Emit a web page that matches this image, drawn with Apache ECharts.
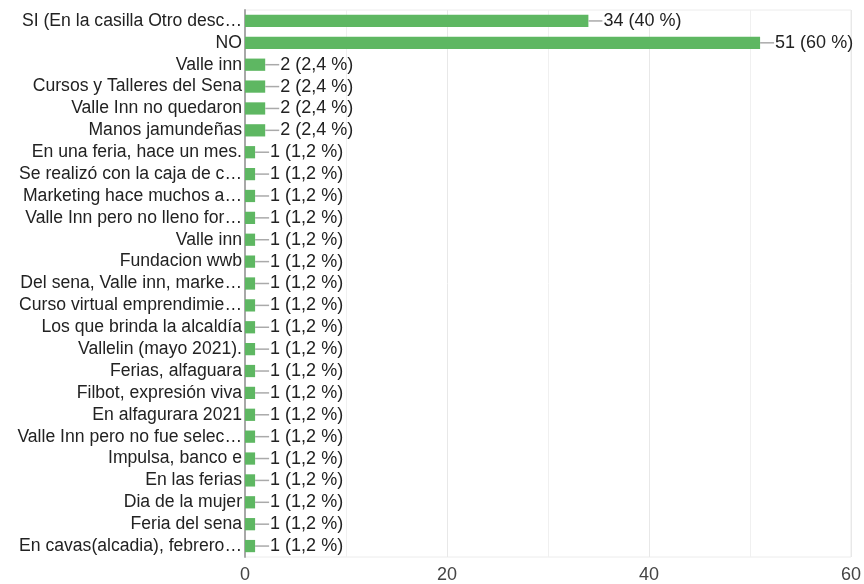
<!DOCTYPE html>
<html>
<head>
<meta charset="utf-8">
<script src="https://cdn.jsdelivr.net/npm/echarts@6/dist/echarts.min.js"></script>
<style>
  html, body { margin: 0; padding: 0; background: #fff; }
  #chart { width: 864px; height: 584px; }
</style>
</head>
<body>
<div id="chart"></div>
<script>
// categorias tal como aparecen (truncadas) en el gráfico
var categories = [
    'SI (En la casilla Otro desc…',
    'NO',
    'Valle inn',
    'Cursos y Talleres del Sena',
    'Valle Inn no quedaron',
    'Manos jamundeñas',
    'En una feria, hace un mes.',
    'Se realizó con la caja de c…',
    'Marketing hace muchos a…',
    'Valle Inn pero no lleno for…',
    'Valle inn',
    'Fundacion wwb',
    'Del sena, Valle inn, marke…',
    'Curso virtual emprendimie…',
    'Los que brinda la alcaldía',
    'Vallelin (mayo 2021).',
    'Ferias, alfaguara',
    'Filbot, expresión viva',
    'En alfagurara 2021',
    'Valle Inn pero no fue selec…',
    'Impulsa, banco e',
    'En las ferias',
    'Dia de la mujer',
    'Feria del sena',
    'En cavas(alcadia), febrero…'
];
var counts = [34, 51, 2, 2, 2, 2, 1, 1, 1, 1, 1, 1, 1, 1, 1, 1, 1, 1, 1, 1, 1, 1, 1, 1, 1];
var xTicks = [0, 20, 40, 60];
var total = 85;

var fontFamily = 'Arial, "Liberation Sans", sans-serif';

var pctLabel = function (v) {
    var p = Number((v / total * 100).toFixed(1));
    return String(p).replace('.', ',') + ' %';
};

var chart = echarts.init(document.getElementById('chart'));
chart.setOption({
    animation: false,
    textStyle: { fontFamily: fontFamily },
    grid: {
        left: 245, right: 11, top: 10, bottom: 27, containLabel: false,
        show: true, borderColor: '#ececec', borderWidth: 1
    },
    xAxis: {
        type: 'value',
        min: xTicks[0],
        max: xTicks[xTicks.length - 1],
        interval: 20,
        axisLine: { show: false },
        axisTick: { show: false },
        axisLabel: { color: '#444', fontSize: 18, margin: 9, fontFamily: fontFamily },
        splitLine: { show: true, lineStyle: { color: '#e8e8e8', width: 1 } },
        minorTick: { show: false, splitNumber: 2 },
        minorSplitLine: { show: true, lineStyle: { color: '#f0f0f0', width: 1 } }
    },
    yAxis: {
        type: 'category',
        inverse: true,
        data: categories,
        axisLine: { show: true, lineStyle: { color: '#a8a8a8', width: 2 } },
        axisTick: { show: false },
        axisLabel: { color: '#222', fontSize: 17.6, margin: 3, fontFamily: fontFamily, interval: 0 },
        splitLine: { show: false }
    },
    series: [{
        type: 'bar',
        data: counts,
        barCategoryGap: '44%',
        itemStyle: { color: '#5eb762' },
        label: {
            show: true,
            position: 'right',
            distance: 0,
            formatter: function (p) {
                return '{l|}{v|' + p.value + ' (' + pctLabel(p.value) + ')}';
            },
            rich: {
                l: { width: 14, height: 1.5, backgroundColor: '#aaa', verticalAlign: 'middle' },
                v: { color: '#222', fontSize: 18, fontFamily: fontFamily, padding: [0, 0, 0, 1] }
            }
        }
    }]
});
</script>
</body>
</html>
